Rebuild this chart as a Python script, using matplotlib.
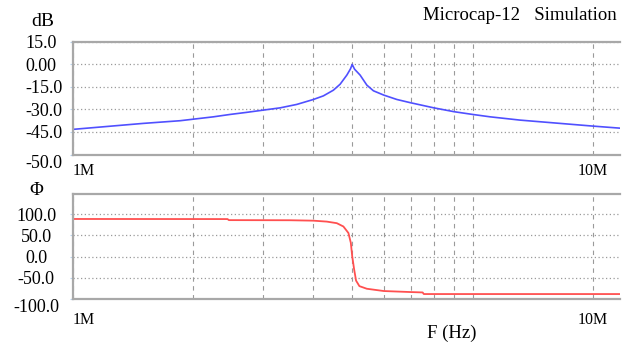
import matplotlib
matplotlib.use("Agg")
import matplotlib.pyplot as plt

plt.rcParams['font.family'] = ['Liberation Serif', 'DejaVu Serif']

# magnitude curve, frequency in Hz
mag_freq = [1.0e6, 1.5e6, 1.857e6, 2.249e6, 2.477e6, 2.726e6, 3.0e6, 3.303e6,
            3.636e6, 4.0e6, 4.236e6, 4.487e6, 4.665e6, 4.849e6, 4.95e6, 5.0e6,
            5.07e6, 5.233e6, 5.44e6, 5.65e6, 6.0e6, 6.465e6, 7.0e6, 8.0e6,
            9.0e6, 10.0e6, 11.06e6, 13.15e6, 20.0e6, 23.7e6]
mag_db = [-43.4, -39.4, -37.6, -35.0, -33.4, -32.0, -30.5, -29.0,
          -26.7, -23.4, -21.0, -17.2, -13.2, -7.1, -3.0, 0.0,
          -3.2, -7.1, -13.8, -17.6, -20.5, -23.4, -25.6, -29.0,
          -31.6, -33.4, -35.0, -37.2, -41.2, -42.7]

# phase curve (degrees)
ph_freq = [1.0e6, 2.44e6, 2.46e6, 3.5e6, 4.0e6, 4.32e6, 4.576e6, 4.753e6,
           4.893e6, 4.961e6, 5.0e6, 5.055e6, 5.113e6, 5.212e6, 5.44e6, 6.0e6,
           7.0e6, 7.5e6, 7.55e6, 23.7e6]
ph_deg = [89.0, 88.8, 86.3, 86.0, 85.0, 82.8, 79.1, 71.3,
          55.9, 32.7, 1.6, -29.4, -56.6, -69.6, -75.8, -81.2,
          -83.6, -84.5, -88.3, -88.3]

grid_freqs = [2e6, 3e6, 4e6, 5e6, 6e6, 7e6, 8e6, 9e6, 1e7]
x_ticks = [1e6, 2e7]
x_labels = ['1M', '10M']

mag_ticks = [15, 0, -15, -30, -45, -60.5]
mag_labels = ['15.0', '0.00', '-15.0', '-30.0', '-45.0', '-50.0']
ph_ticks = [100, 50, 0, -50, -100]
ph_labels = ['100.0', '50.0', '0.0', '-50.0', '-100.0']

spine_col = '#a8a8a8'
grid_col = '#9a9a9a'

fig = plt.figure(figsize=(6.29, 3.45), dpi=100)
ax1 = fig.add_axes([72.5 / 629, 1 - 155 / 345, 547.5 / 629, 113 / 345])
ax2 = fig.add_axes([72.5 / 629, 1 - 299 / 345, 547.5 / 629, 105 / 345])


def style(ax, yticks, ylabels, ylim, xpad, lab_x, lab_ha):
    ax.set_xscale('log')
    ax.set_xlim(1e6, 23.35e6)
    ax.set_ylim(*ylim)
    ax.set_xticks(x_ticks)
    ax.set_xticklabels(x_labels)
    ax.set_xticks(grid_freqs, minor=True)
    ax.set_xticklabels([], minor=True)
    ax.xaxis.get_majorticklabels()[0].set_horizontalalignment('left')
    ax.set_yticks(yticks)
    ax.set_yticklabels([])
    ax.tick_params(axis='x', which='both', length=0, labelsize=11.5, pad=xpad)
    ax.tick_params(axis='y', length=2, color='#b8d4ee')
    # y labels drawn as text so their alignment matches the original
    for i, (t, s) in enumerate(zip(yticks, ylabels)):
        va = 'top' if i == len(yticks) - 1 else 'center_baseline'
        ax.text(lab_x, t, s, ha=lab_ha, va=va, fontsize=13,
                transform=ax.get_yaxis_transform(), clip_on=False)
    ax.grid(True, axis='x', which='both', color=grid_col, linestyle=(0, (4, 4)),
            linewidth=0.8)
    ax.grid(True, axis='y', color=grid_col, linestyle=(0, (1, 2)), linewidth=0.9)
    for s in ['top', 'bottom', 'left']:
        ax.spines[s].set_color(spine_col)
        ax.spines[s].set_linewidth(1.6)
    ax.spines['right'].set_visible(False)
    ax.set_axisbelow(True)


style(ax1, mag_ticks, mag_labels, (-60.5, 15), 6, (25 - 72.5) / 547.5, 'left')
style(ax2, ph_ticks, ph_labels, (-100, 148), 9, (36 - 72.5) / 547.5, 'center')

ax1.plot(mag_freq, mag_db, color='#5050ff', linewidth=1.2)
ax2.plot(ph_freq, ph_deg, color='#ff5050', linewidth=1.3)

fig.text(43 / 629, 1 - 21 / 345, 'dB', ha='center', va='center', fontsize=14)
fig.text(36 / 629, 1 - 191 / 345, 'Φ', ha='center', va='center', fontsize=13.5)
fig.text(617 / 629, 1 - 15 / 345, 'Microcap-12   Simulation', ha='right',
         va='center', fontsize=13.5)
fig.text(452 / 629, 1 - 333 / 345, 'F (Hz)', ha='center', va='center',
         fontsize=13.5)

fig.savefig('out.png', dpi=100)
